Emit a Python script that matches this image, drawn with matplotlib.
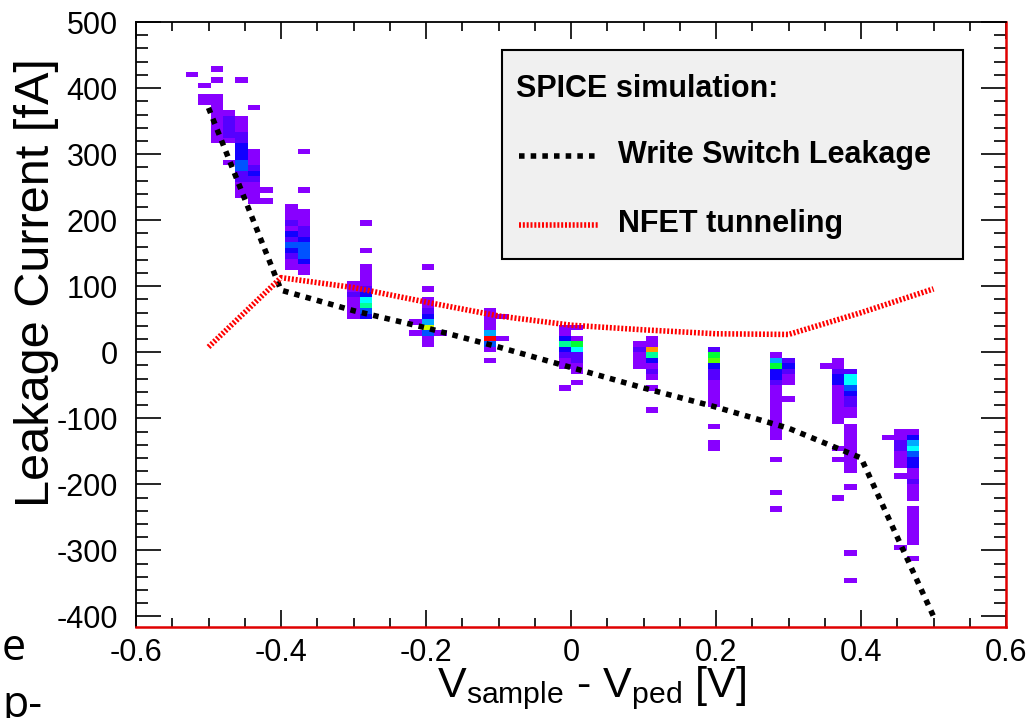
import numpy as np
import matplotlib
matplotlib.use("Agg")
import matplotlib.pyplot as plt
from matplotlib.colors import LinearSegmentedColormap, Normalize
from matplotlib.patches import Rectangle
from matplotlib.lines import Line2D
from matplotlib.ticker import MultipleLocator, FuncFormatter

plt.rcParams['font.family'] = ['Liberation Sans', 'DejaVu Sans']
plt.rcParams['mathtext.default'] = 'regular'
plt.rcParams['axes.unicode_minus'] = False

# 2D histogram binning (70 x 120 bins)
x_edges = np.linspace(-0.6, 0.6, 71)
y_edges = np.linspace(-500, 500, 121)

# measured cells: (V bin centre, current bin centre [fA], entries)
clus_m050 = [(-0.5229, 420.8, 1),
             (-0.5057, 404.2, 1), (-0.5057, 387.5, 1), (-0.5057, 379.2, 1),
             (-0.4886, 429.2, 1), (-0.4886, 412.5, 1), (-0.4886, 387.5, 1), (-0.4886, 379.2, 1),
             (-0.4886, 370.8, 1), (-0.4886, 362.5, 1), (-0.4886, 354.2, 1), (-0.4886, 345.8, 1),
             (-0.4886, 337.5, 1), (-0.4886, 329.2, 1), (-0.4886, 320.8, 1),
             (-0.4714, 362.5, 1), (-0.4714, 354.2, 2), (-0.4714, 345.8, 2), (-0.4714, 337.5, 2),
             (-0.4714, 329.2, 2), (-0.4714, 320.8, 1), (-0.4714, 287.5, 1),
             (-0.4543, 412.5, 1), (-0.4543, 354.2, 1), (-0.4543, 345.8, 1), (-0.4543, 337.5, 1),
             (-0.4543, 329.2, 2), (-0.4543, 320.8, 2), (-0.4543, 312.5, 3), (-0.4543, 304.2, 3),
             (-0.4543, 295.8, 3), (-0.4543, 287.5, 4), (-0.4543, 279.2, 4), (-0.4543, 270.8, 2),
             (-0.4543, 262.5, 2), (-0.4543, 254.2, 1), (-0.4543, 245.8, 1), (-0.4543, 237.5, 1),
             (-0.4371, 370.8, 1), (-0.4371, 304.2, 1), (-0.4371, 295.8, 1), (-0.4371, 287.5, 1),
             (-0.4371, 279.2, 2), (-0.4371, 270.8, 3), (-0.4371, 262.5, 2), (-0.4371, 254.2, 1),
             (-0.4371, 245.8, 1), (-0.4371, 237.5, 1), (-0.4371, 229.2, 1),
             (-0.4200, 245.8, 1), (-0.4200, 229.2, 1)]

clus_m040 = [(-0.3857, 220.8, 1), (-0.3857, 212.5, 1), (-0.3857, 204.2, 1), (-0.3857, 195.8, 2),
             (-0.3857, 187.5, 1), (-0.3857, 179.2, 3), (-0.3857, 170.8, 2), (-0.3857, 162.5, 4),
             (-0.3857, 154.2, 3), (-0.3857, 145.8, 2), (-0.3857, 137.5, 1), (-0.3857, 129.2, 1),
             (-0.3686, 304.2, 1), (-0.3686, 245.8, 1),
             (-0.3686, 212.5, 1), (-0.3686, 204.2, 1), (-0.3686, 195.8, 1), (-0.3686, 187.5, 2),
             (-0.3686, 179.2, 2), (-0.3686, 170.8, 3), (-0.3686, 162.5, 4), (-0.3686, 154.2, 4),
             (-0.3686, 145.8, 4), (-0.3686, 137.5, 3), (-0.3686, 129.2, 1), (-0.3686, 120.8, 1)]

clus_m030 = [(-0.3000, 104.2, 1), (-0.3000, 95.8, 1), (-0.3000, 87.5, 2), (-0.3000, 79.2, 1),
             (-0.3000, 70.8, 1), (-0.3000, 62.5, 1), (-0.3000, 54.2, 1),
             (-0.2829, 195.8, 1), (-0.2829, 154.2, 1),
             (-0.2829, 129.2, 1), (-0.2829, 120.8, 1), (-0.2829, 112.5, 1), (-0.2829, 104.2, 1),
             (-0.2829, 95.8, 2), (-0.2829, 87.5, 3), (-0.2829, 79.2, 6), (-0.2829, 70.8, 7),
             (-0.2829, 62.5, 4), (-0.2829, 54.2, 3)]

clus_m020 = [(-0.2143, 45.8, 1), (-0.2143, 29.2, 1),
             (-0.1971, 129.2, 1), (-0.1971, 95.8, 1), (-0.1971, 79.2, 1), (-0.1971, 70.8, 1),
             (-0.1971, 62.5, 2), (-0.1971, 54.2, 3), (-0.1971, 45.8, 5), (-0.1971, 37.5, 10),
             (-0.1971, 29.2, 4), (-0.1971, 20.8, 1), (-0.1971, 12.5, 1),
             (-0.1800, 29.2, 1)]

clus_m010 = [(-0.1114, 62.5, 1), (-0.1114, 54.2, 1), (-0.1114, 45.8, 1), (-0.1114, 37.5, 1),
             (-0.1114, 29.2, 5), (-0.1114, 20.8, 12), (-0.1114, 12.5, 4), (-0.1114, 4.2, 1),
             (-0.1114, -12.5, 1),
             (-0.0943, 54.2, 1), (-0.0943, 20.8, 1)]

clus_000 = [(-0.0086, 37.5, 1), (-0.0086, 29.2, 1), (-0.0086, 20.8, 3), (-0.0086, 12.5, 7),
            (-0.0086, 4.2, 3), (-0.0086, -4.2, 2), (-0.0086, -12.5, 1), (-0.0086, -20.8, 1),
            (-0.0086, -54.2, 1),
            (0.0086, 37.5, 1), (0.0086, 20.8, 1), (0.0086, 12.5, 8), (0.0086, 4.2, 6),
            (0.0086, -4.2, 2), (0.0086, -12.5, 2), (0.0086, -20.8, 1), (0.0086, -29.2, 1),
            (0.0086, -45.8, 1)]

clus_010 = [(0.0943, 12.5, 1), (0.0943, 4.2, 2), (0.0943, -4.2, 1), (0.0943, -12.5, 1),
            (0.0943, -20.8, 1),
            (0.1114, 20.8, 1), (0.1114, 12.5, 1), (0.1114, 4.2, 11), (0.1114, -4.2, 7),
            (0.1114, -12.5, 3), (0.1114, -20.8, 1), (0.1114, -29.2, 2), (0.1114, -37.5, 1),
            (0.1114, -54.2, 1), (0.1114, -87.5, 1)]

clus_020 = [(0.1971, 4.2, 2), (0.1971, -4.2, 8), (0.1971, -12.5, 9), (0.1971, -20.8, 3),
            (0.1971, -29.2, 2), (0.1971, -37.5, 2), (0.1971, -45.8, 1), (0.1971, -54.2, 1),
            (0.1971, -62.5, 1), (0.1971, -70.8, 1), (0.1971, -79.2, 1), (0.1971, -112.5, 1),
            (0.1971, -137.5, 1), (0.1971, -145.8, 1)]

clus_030 = [(0.2829, -4.2, 1), (0.2829, -12.5, 5), (0.2829, -20.8, 8), (0.2829, -29.2, 3),
            (0.2829, -37.5, 3), (0.2829, -45.8, 2), (0.2829, -54.2, 1), (0.2829, -62.5, 1),
            (0.2829, -70.8, 1), (0.2829, -79.2, 1), (0.2829, -87.5, 1), (0.2829, -95.8, 1),
            (0.2829, -104.2, 1), (0.2829, -112.5, 1), (0.2829, -120.8, 1), (0.2829, -129.2, 1),
            (0.2829, -162.5, 1), (0.2829, -212.5, 1), (0.2829, -237.5, 1),
            (0.3000, -12.5, 2), (0.3000, -20.8, 3), (0.3000, -29.2, 2), (0.3000, -37.5, 1),
            (0.3000, -45.8, 1), (0.3000, -70.8, 1)]

clus_040 = [(0.3514, -20.8, 1),
            (0.3686, -12.5, 1), (0.3686, -20.8, 1), (0.3686, -29.2, 2), (0.3686, -37.5, 3),
            (0.3686, -45.8, 3), (0.3686, -54.2, 1), (0.3686, -62.5, 1), (0.3686, -70.8, 1),
            (0.3686, -79.2, 1), (0.3686, -87.5, 1), (0.3686, -95.8, 1), (0.3686, -104.2, 1),
            (0.3686, -145.8, 1), (0.3686, -162.5, 1), (0.3686, -220.8, 1),
            (0.3857, -29.2, 2), (0.3857, -37.5, 6), (0.3857, -45.8, 6), (0.3857, -54.2, 4),
            (0.3857, -62.5, 3), (0.3857, -70.8, 2), (0.3857, -79.2, 2), (0.3857, -87.5, 1),
            (0.3857, -95.8, 1), (0.3857, -112.5, 1), (0.3857, -120.8, 1), (0.3857, -129.2, 1),
            (0.3857, -137.5, 1), (0.3857, -145.8, 1), (0.3857, -154.2, 1), (0.3857, -162.5, 1),
            (0.3857, -170.8, 1), (0.3857, -179.2, 1), (0.3857, -204.2, 1), (0.3857, -304.2, 1),
            (0.3857, -345.8, 1)]

clus_050 = [(0.4371, -129.2, 1),
            (0.4543, -120.8, 1), (0.4543, -129.2, 1), (0.4543, -137.5, 2), (0.4543, -145.8, 2),
            (0.4543, -154.2, 1), (0.4543, -162.5, 1), (0.4543, -170.8, 1), (0.4543, -187.5, 1),
            (0.4543, -295.8, 1),
            (0.4714, -120.8, 1), (0.4714, -129.2, 3), (0.4714, -137.5, 5), (0.4714, -145.8, 6),
            (0.4714, -154.2, 4), (0.4714, -162.5, 3), (0.4714, -170.8, 3), (0.4714, -179.2, 1),
            (0.4714, -187.5, 1), (0.4714, -195.8, 2), (0.4714, -204.2, 1), (0.4714, -212.5, 1),
            (0.4714, -220.8, 1), (0.4714, -237.5, 1), (0.4714, -245.8, 1), (0.4714, -254.2, 1),
            (0.4714, -262.5, 1), (0.4714, -270.8, 1), (0.4714, -279.2, 1), (0.4714, -287.5, 1),
            (0.4714, -312.5, 1)]

# SPICE simulation curves
sim_v = [-0.5, -0.4, -0.3, -0.2, -0.1, 0.0, 0.1, 0.2, 0.3, 0.4, 0.5]
write_switch = [370, 94, 63, 37, 8, -23, -54, -83, -115, -160, -400]
nfet_tunnel = [8, 113, 98, 76, 55, 41, 34, 28, 27, 60, 96]

# ROOT-like palette
palette = ["#8800FF", "#5500FF", "#1100FF", "#0055FF", "#00AAFF", "#00FFFF",
           "#00FF99", "#00FF33", "#55FF00", "#CCFF00", "#FF9900", "#FF0000"]
cmap = LinearSegmentedColormap.from_list("rootpal", palette)

cells = np.array(clus_m050 + clus_m040 + clus_m030 + clus_m020 + clus_m010 +
                 clus_000 + clus_010 + clus_020 + clus_030 + clus_040 + clus_050)
H, xe, ye = np.histogram2d(cells[:, 0], cells[:, 1], bins=[x_edges, y_edges],
                           weights=cells[:, 2])
H = np.ma.masked_where(H == 0, H)

fig = plt.figure(figsize=(10.36, 7.18), dpi=100)
ax = fig.add_axes([0.1313, 0.1267, 0.8398, 0.8426])

ax.pcolormesh(xe, ye, H.T, cmap=cmap, norm=Normalize(vmin=1, vmax=12), zorder=1)

ax.plot(sim_v, write_switch, color='black', lw=4, ls=(0, (1.0, 1.1)),
        dash_capstyle='butt', zorder=3)
ax.plot(sim_v, nfet_tunnel, color='#ff0000', lw=4, ls=(0, (0.36, 0.33)),
        dash_capstyle='butt', zorder=3)

ax.set_xlim(-0.6, 0.6)
ax.set_ylim(-416, 500)

ax.xaxis.set_major_locator(MultipleLocator(0.2))
ax.xaxis.set_minor_locator(MultipleLocator(0.05))
ax.yaxis.set_major_locator(MultipleLocator(100))
ax.yaxis.set_minor_locator(MultipleLocator(20))
ax.xaxis.set_major_formatter(FuncFormatter(lambda v, p: '0' if abs(v) < 1e-9 else '%.1f' % v))
ax.yaxis.set_major_formatter(FuncFormatter(lambda v, p: '%d' % round(v)))

ax.tick_params(which='both', direction='in', top=True, right=True, width=1.2,
               labelsize=22, colors='black')
ax.tick_params(axis='x', which='major', length=12, pad=8)
ax.tick_params(axis='x', which='minor', length=6.5)
ax.tick_params(axis='y', which='major', length=18, pad=13)
ax.tick_params(axis='y', which='minor', length=8.6)

for side in ['left', 'top']:
    ax.spines[side].set_color('black')
    ax.spines[side].set_linewidth(1.3)
for side in ['bottom', 'right']:
    ax.spines[side].set_color('#e00000')
    ax.spines[side].set_linewidth(1.8)

# legend box
ax.add_patch(Rectangle((0.4207, 0.6083), 0.5299, 0.3454, transform=ax.transAxes,
                       facecolor='#f0f0f0', edgecolor='black', lw=1.5, zorder=4))
ax.text(0.4368, 0.8765, 'SPICE simulation:', transform=ax.transAxes, fontsize=22,
        fontweight='bold', va='baseline', zorder=5)
ax.text(0.5540, 0.7664, 'Write Switch Leakage', transform=ax.transAxes, fontsize=22,
        fontweight='bold', va='baseline', zorder=5)
ax.text(0.5540, 0.6534, 'NFET tunneling', transform=ax.transAxes, fontsize=22,
        fontweight='bold', va='baseline', zorder=5)
ax.add_line(Line2D([0.4402, 0.5299], [0.7785, 0.7785], transform=ax.transAxes,
                   color='black', lw=4, ls=(0, (1.0, 1.1)), dash_capstyle='butt', zorder=5))
ax.add_line(Line2D([0.4402, 0.5310], [0.6645, 0.6645], transform=ax.transAxes,
                   color='#ff0000', lw=4, ls=(0, (0.36, 0.33)), dash_capstyle='butt', zorder=5))

# axis titles
fig.text(0.0357, 0.919, 'Leakage Current [fA]', rotation=90, ha='center', va='top',
         fontsize=35)
fig.text(0.4218, 0.029, r'V$_{sample}$ - V$_{ped}$ [V]', ha='left', va='baseline',
         fontsize=31)

# slide text cut at the left edge
fig.text(0.002, 0.081, 'e', fontsize=31, family=['Open Sans', 'DejaVu Sans'], va='baseline')
fig.text(0.002, 0.0014, 'p-', fontsize=31, family=['Open Sans', 'DejaVu Sans'], va='baseline')

fig.savefig('out.png', dpi=100)
